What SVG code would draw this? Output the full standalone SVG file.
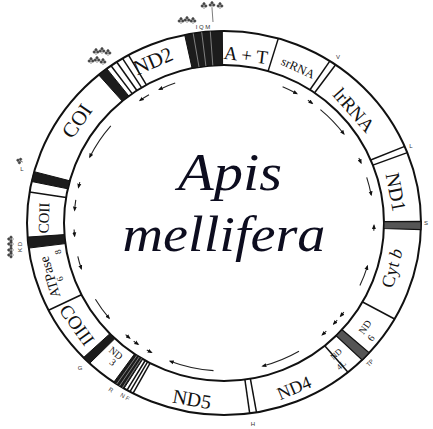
<svg xmlns="http://www.w3.org/2000/svg" xmlns:xlink="http://www.w3.org/1999/xlink" width="433" height="429" viewBox="0 0 433 429">
<style>
.ring{fill:none;stroke:#111;stroke-width:2}
.b{stroke:#111;stroke-width:1.5;fill:none}
.band{fill:#1c1c1c;stroke:#111;stroke-width:1}
.gband{fill:#555;stroke:#111;stroke-width:1.2}
.hat{stroke:#999;stroke-width:0.8}
.lbl{font-family:"Liberation Serif","Times New Roman",serif;fill:#111;text-anchor:middle;dominant-baseline:central}
.sm{font-family:"Liberation Sans",Arial,sans-serif;font-size:6px;fill:#333;text-anchor:middle;dominant-baseline:central}
.arr{fill:none;stroke:#222;stroke-width:1.1;marker-end:url(#ah)}
.title{font-family:"Liberation Serif","Times New Roman",serif;font-style:italic;fill:#0d0d1f;text-anchor:middle}
.tr{fill:#444;stroke:#444;stroke-width:0.6}
</style>
<defs>
<marker id="ah" viewBox="0 0 10 10" refX="7" refY="5" markerWidth="5" markerHeight="5" orient="auto" markerUnits="userSpaceOnUse"><path d="M0,1 L10,5 L0,9 z" fill="#111"/></marker>
<g id="clv" class="tr"><circle cx="-1.8" cy="0" r="1.2"/><circle cx="1.8" cy="0" r="1.2"/><circle cx="0" cy="-2.2" r="1.2"/><line x1="0" y1="0" x2="0" y2="3"/></g>
</defs>

<rect width="433" height="429" fill="#fff"/>

<g id="ring">
<ellipse class="ring" cx="224" cy="223" rx="197" ry="192"/>
<ellipse class="ring" cx="224" cy="223" rx="160" ry="158"/>
</g>

<g id="trna-top">
<path class="band" d="M184.7 34.9 A197 192 0 0 1 222.3 31.0 L222.6 65.0 A160 158 0 0 0 192.1 68.2 Z"/>
<line class="hat" x1="193.2" y1="33.4" x2="199.0" y2="67.0"/>
<line class="hat" x1="201.7" y1="32.2" x2="205.9" y2="66.0"/>
<line class="hat" x1="210.3" y1="31.5" x2="212.8" y2="65.4"/>
<use xlink:href="#clv" x="181" y="21"/><use xlink:href="#clv" x="187" y="20"/><use xlink:href="#clv" x="193" y="21"/>
<use xlink:href="#clv" x="204" y="6"/><use xlink:href="#clv" x="212" y="5"/><use xlink:href="#clv" x="220" y="6"/>
<line x1="212" y1="8" x2="213" y2="22" stroke="#444" stroke-width="0.7"/>
<text class="sm" x="203" y="27" font-size="5">I Q M</text>
</g>

<g id="AT"><line class="b" x1="278.3" y1="38.4" x2="268.1" y2="71.1"/>
<text class="lbl" font-size="19" transform="translate(246 55) rotate(7)">A + T</text></g>

<g id="srRNA"><line class="b" x1="329.8" y1="61.1" x2="310.0" y2="89.7"/><line class="b" x1="335.6" y1="64.8" x2="314.6" y2="92.8"/>
<text class="lbl" font-size="12.5" transform="translate(298 68) rotate(25)">srRNA</text>
<text class="sm" x="338" y="57">V</text></g>

<g id="lrRNA"><line class="b" x1="404.7" y1="146.4" x2="370.7" y2="160.0"/><line class="b" x1="407.3" y1="152.6" x2="372.9" y2="165.1"/>
<text class="lbl" font-size="19" transform="translate(354 110) rotate(48.5)">lrRNA</text>
<text class="sm" x="411" y="146">L</text></g>

<g id="ND1"><text class="lbl" font-size="20" transform="translate(396 192) rotate(79)">ND1</text></g>

<g id="trna-S"><path class="gband" d="M421.0 221.3 A197 192 0 0 1 420.9 229.7 L383.9 228.5 A160 158 0 0 0 384.0 221.6 Z"/>
<text class="sm" x="426" y="223">S</text></g>

<g id="Cytb"><line class="b" stroke-width="2" x1="394.6" y1="319.0" x2="362.6" y2="302.0"/>
<text class="lbl" font-size="18" transform="translate(392 268) rotate(-75)">Cyt <tspan font-style="italic">b</tspan></text></g>

<g id="ND6"><text class="lbl" font-size="10" transform="translate(365 327) rotate(-54)">ND</text>
<text class="lbl" font-size="10" transform="translate(371 338) rotate(-54)">6</text></g>

<g id="trna-TP"><path class="gband" d="M369.2 352.7 A197 192 0 0 1 362.1 360.0 L336.1 335.7 A160 158 0 0 0 342.0 329.7 Z"/>
<text class="sm" transform="translate(370 363) rotate(-45)">TP</text></g>

<g id="ND4L"><line class="b" x1="348.0" y1="372.2" x2="324.7" y2="345.8"/>
<text class="lbl" font-size="8.5" transform="translate(336 354) rotate(-42)">ND</text>
<text class="lbl" font-size="8.5" transform="translate(341 365) rotate(-42)">4L</text></g>

<g id="ND4"><text class="lbl" font-size="18" transform="translate(294 388) rotate(-23)">ND4</text></g>

<g id="trna-H"><line class="b" x1="256.5" y1="412.4" x2="250.4" y2="378.8"/><line class="b" x1="249.7" y1="413.3" x2="244.9" y2="379.6"/>
<text class="sm" x="253" y="424">H</text></g>

<g id="ND5"><text class="lbl" font-size="20" transform="translate(192 399) rotate(10)">ND5</text></g>

<g id="trna-RNF">
<path class="band" d="M124.0 388.4 A197 192 0 0 1 113.8 382.2 L134.5 354.0 A160 158 0 0 0 142.8 359.1 Z"/>
<line class="hat" x1="116.7" y1="384.0" x2="136.9" y2="355.5"/>
<line class="hat" x1="119.6" y1="385.8" x2="139.2" y2="357.0"/>
<line class="hat" x1="122.5" y1="387.6" x2="141.6" y2="358.4"/>
<line class="b" stroke-width="1.2" x1="127.0" y1="390.1" x2="145.2" y2="360.5"/>
<line class="b" stroke-width="1.2" x1="130.0" y1="391.7" x2="147.6" y2="361.9"/>
<line class="b" stroke-width="1.2" x1="133.0" y1="393.3" x2="150.1" y2="363.1"/>
<text class="sm" transform="translate(111 390) rotate(32)">R</text>
<text class="sm" transform="translate(125 397) rotate(30)">N F</text></g>

<g id="ND3"><text class="lbl" font-size="10" transform="translate(116 353) rotate(38.5)">ND</text>
<text class="lbl" font-size="10" transform="translate(113 362) rotate(38.5)">3</text></g>

<g id="trna-G"><path class="band" d="M89.6 363.4 A197 192 0 0 1 83.5 357.6 L109.9 333.7 A160 158 0 0 0 114.9 338.6 Z"/>
<text class="sm" x="80" y="368">G</text></g>

<g id="COIII"><line class="b" x1="48.5" y1="310.2" x2="81.4" y2="294.7"/>
<text class="lbl" font-size="19" transform="translate(77 325) rotate(54.5)">COIII</text></g>

<g id="ATPase"><text class="lbl" font-size="14" transform="translate(50 277) rotate(-107)">ATPase</text>
<text class="lbl" font-size="9" transform="translate(58 252) rotate(-107)">8</text>
<text class="lbl" font-size="9" transform="translate(60 279) rotate(-107)">6</text></g>

<g id="trna-KD"><path class="band" d="M28.7 248.1 A197 192 0 0 1 27.5 237.1 L64.4 234.6 A160 158 0 0 0 65.4 243.6 Z"/>
<use xlink:href="#clv" transform="translate(11 239) rotate(-90)"/><use xlink:href="#clv" transform="translate(11 244) rotate(-90)"/>
<use xlink:href="#clv" transform="translate(11 250) rotate(-90)"/><use xlink:href="#clv" transform="translate(11 255) rotate(-90)"/>
<text class="sm" transform="translate(20 247) rotate(-90)">K D</text></g>

<g id="COII"><line class="b" x1="29.6" y1="192.0" x2="66.1" y2="197.5"/>
<text class="lbl" font-size="15" transform="translate(44 218) rotate(-88.5)">COII</text></g>

<g id="trna-L"><path class="band" d="M31.7 181.5 A197 192 0 0 1 34.2 171.7 L69.8 180.8 A160 158 0 0 0 67.8 188.8 Z"/>
<use xlink:href="#clv" transform="translate(20 161) rotate(-70)"/>
<text class="sm" x="22" y="169">L</text></g>

<g id="COI"><text class="lbl" font-size="21" transform="translate(77 121) rotate(-55)">COI</text></g>

<g id="trna-WCY"><path class="band" d="M98.7 74.9 A197 192 0 0 1 106.8 68.7 L128.8 96.0 A160 158 0 0 0 122.2 101.1 Z"/>
<line class="b" stroke-width="1.8" x1="111.0" y1="65.7" x2="132.2" y2="93.6"/>
<line class="b" stroke-width="1.3" x1="116.7" y1="62.0" x2="136.9" y2="90.5"/>
<line class="b" stroke-width="1.3" x1="122.5" y1="58.4" x2="141.6" y2="87.6"/>
<line class="b" stroke-width="1.5" x1="128.5" y1="55.1" x2="146.4" y2="84.8"/>
<use xlink:href="#clv" x="96" y="52"/><use xlink:href="#clv" x="102" y="51"/><use xlink:href="#clv" x="108" y="53"/>
<use xlink:href="#clv" x="91" y="61"/><use xlink:href="#clv" x="97" y="60"/><use xlink:href="#clv" x="103" y="62"/></g>

<g id="ND2"><text class="lbl" font-size="21" transform="translate(153 61) rotate(-23)">ND2</text></g>

<g id="connectors">
<path class="arr" d="M175.2 83.1 A150 148 0 0 0 159.4 89.4"/>
<path class="arr" d="M149.0 94.8 A150 148 0 0 0 140.1 100.3"/>
<path class="arr" d="M110.8 125.9 A150 148 0 0 0 89.8 157.0"/>
<path class="arr" d="M79.8 182.2 A150 148 0 0 0 78.5 187.2"/>
<path class="arr" d="M75.8 199.9 A150 148 0 0 0 74.6 210.1"/>
<path class="arr" d="M74.1 229.5 A150 148 0 0 0 74.6 235.9"/>
<path class="arr" d="M77.8 256.3 A150 148 0 0 0 81.3 268.7"/>
<path class="arr" d="M95.4 299.2 A150 148 0 0 0 109.1 318.1"/>
<path class="arr" d="M125.6 334.7 A150 148 0 0 0 129.6 338.0"/>
<path class="arr" d="M133.7 341.2 A150 148 0 0 0 138.0 344.2"/>
<path class="arr" d="M146.8 349.9 A150 148 0 0 0 151.3 352.4"/>
<path class="arr" d="M213.5 370.6 A150 148 0 0 1 170.2 361.2"/>
<path class="arr" d="M299.0 351.2 A150 148 0 0 1 262.8 366.0"/>
<path class="arr" d="M343.8 312.1 A150 148 0 0 1 340.6 316.1"/>
<path class="arr" d="M337.2 320.1 A150 148 0 0 1 333.7 323.9"/>
<path class="arr" d="M326.3 331.2 A150 148 0 0 1 322.4 334.7"/>
<path class="arr" d="M359.9 285.5 A150 148 0 0 0 367.4 266.3"/>
<path class="arr" d="M373.8 230.7 A150 148 0 0 0 374.0 225.6"/>
<path class="arr" d="M366.7 177.3 A150 148 0 0 1 371.2 194.8"/>
<path class="arr" d="M358.8 158.1 A150 148 0 0 1 361.0 162.8"/>
<path class="arr" d="M320.4 109.6 A150 148 0 0 1 343.8 133.9"/>
<path class="arr" d="M307.9 100.3 A150 148 0 0 1 312.2 103.3"/>
<path class="arr" d="M282.6 86.8 A150 148 0 0 1 296.7 93.6"/>
</g>

<g id="title">
<text class="title" x="230" y="190" font-size="52" textLength="104" lengthAdjust="spacingAndGlyphs">Apis</text>
<text class="title" x="224" y="251" font-size="50" textLength="203" lengthAdjust="spacingAndGlyphs">mellifera</text>
</g>
</svg>
